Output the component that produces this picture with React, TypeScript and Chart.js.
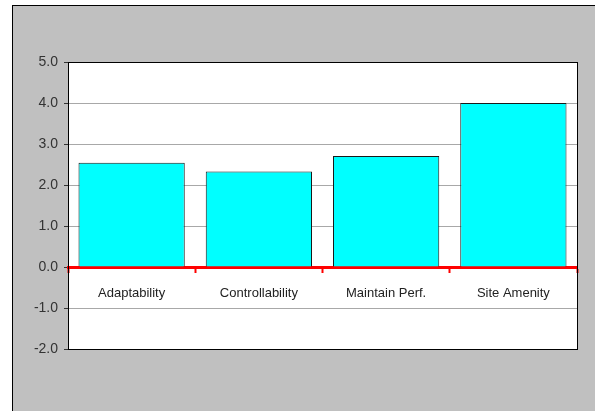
import React, { useEffect, useRef } from "react";
import { Chart, registerables } from "chart.js";

Chart.register(...registerables);

const categories = ["Adaptability", "Controllability", "Maintain Perf.", "Site Amenity"];
const values = [2.54, 2.33, 2.71, 4.0];
const yMin = -2;
const yMax = 5;

const plotFrame = {
  id: "plotFrame",
  beforeDraw(chart: any) {
    const { ctx, chartArea: a } = chart;
    ctx.save();
    ctx.fillStyle = "#ffffff";
    ctx.fillRect(a.left, a.top, a.right - a.left, a.bottom - a.top);
    ctx.restore();
  },
  afterDraw(chart: any) {
    const { ctx, chartArea: a } = chart;
    ctx.save();
    ctx.strokeStyle = "#000000";
    ctx.lineWidth = 1;
    ctx.strokeRect(a.left + 0.5, a.top + 0.5, a.right - a.left, a.bottom - a.top);
    ctx.restore();
  },
};

export default function App() {
  const ref = useRef<HTMLCanvasElement>(null);
  useEffect(() => {
    if (!ref.current) return;
    const chart = new Chart(ref.current, {
      type: "bar",
      data: {
        labels: categories,
        datasets: [
          {
            data: values,
            backgroundColor: "#00ffff",
            borderColor: "#1a1a1a",
            borderWidth: 1,
            categoryPercentage: 1,
            barPercentage: 0.835,
          },
        ],
      },
      options: {
        responsive: false,
        animation: false,
        events: [],
        layout: { padding: { left: 0, top: 62, right: 18, bottom: 62 } },
        plugins: { legend: { display: false }, tooltip: { enabled: false } },
        scales: {
          x: {
            position: { y: 0 } as any,
            offset: true,
            grid: {
              offset: true,
              drawOnChartArea: false,
              drawTicks: true,
              tickLength: 4,
              tickWidth: 2,
              tickColor: "#ff0000",
            },
            border: { display: true, color: "#ff0000", width: 3 },
            ticks: {
              padding: 15,
              color: "#222222",
              font: { family: "Arial, 'Liberation Sans'", size: 13 },
              maxRotation: 0,
            },
          },
          y: {
            min: yMin,
            max: yMax,
            afterFit: (s: any) => {
              s.width = 68;
            },
            grid: {
              color: "#a8a8a8",
              tickColor: "#333333",
              tickLength: 4,
              drawTicks: true,
            },
            border: { display: true, color: "#000000", width: 1 },
            ticks: {
              stepSize: 1,
              padding: 6,
              color: "#333333",
              font: { family: "Arial, 'Liberation Sans'", size: 14 },
              callback: (v: any) => Number(v).toFixed(1),
            },
          },
        },
      },
      plugins: [plotFrame],
    });
    return () => chart.destroy();
  }, []);

  return (
    <div style={{ position: "absolute", left: 0, top: 0, width: 595, height: 411, overflow: "hidden" }}>
      <div
        style={{
          position: "absolute",
          left: 12,
          top: 5,
          width: 600,
          height: 420,
          background: "#c0c0c0",
          borderLeft: "1px solid #000",
          borderTop: "1px solid #000",
        }}
      />
      <canvas ref={ref} width={595} height={411} style={{ position: "absolute", left: 0, top: 0, width: 595, height: 411 }} />
    </div>
  );
}
